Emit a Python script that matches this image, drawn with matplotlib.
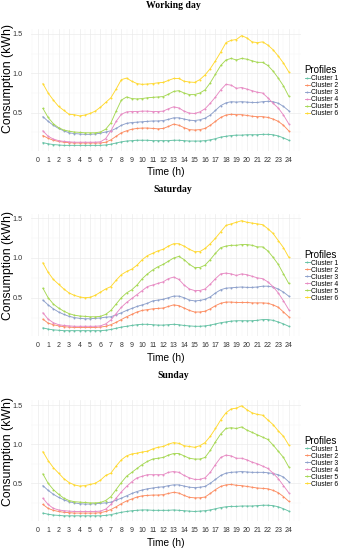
import numpy as np
import matplotlib
matplotlib.use("Agg")
import matplotlib.pyplot as plt
from matplotlib.ticker import MultipleLocator

# ---------------- data ----------------
hours = np.arange(0.5, 24.01, 0.5)          # half-hourly time stamps
clusters = ["Cluster 1", "Cluster 2", "Cluster 3", "Cluster 4", "Cluster 5", "Cluster 6"]
panel_titles = ["Working day", "Saturday", "Sunday"]
x_ticks = list(range(0, 25))
y_ticks = [0.5, 1.0, 1.5]

wd_c1 = [0.12, 0.105, 0.095, 0.09, 0.085, 0.085, 0.085, 0.085,
         0.085, 0.085, 0.085, 0.085, 0.09, 0.10, 0.115, 0.13,
         0.14, 0.145, 0.15, 0.15, 0.15, 0.145, 0.145, 0.145,
         0.145, 0.15, 0.15, 0.145, 0.14, 0.14, 0.14, 0.145,
         0.155, 0.17, 0.19, 0.20, 0.21, 0.215, 0.215, 0.22,
         0.22, 0.22, 0.225, 0.225, 0.22, 0.205, 0.18, 0.15]
wd_c2 = [0.21, 0.175, 0.15, 0.135, 0.125, 0.12, 0.115, 0.115,
         0.115, 0.115, 0.115, 0.115, 0.125, 0.155, 0.20, 0.245,
         0.27, 0.29, 0.30, 0.305, 0.305, 0.30, 0.295, 0.30,
         0.325, 0.355, 0.34, 0.31, 0.285, 0.28, 0.285, 0.30,
         0.34, 0.39, 0.44, 0.47, 0.48, 0.475, 0.475, 0.465,
         0.455, 0.45, 0.45, 0.44, 0.42, 0.39, 0.34, 0.27]
wd_c3 = [0.45, 0.39, 0.34, 0.30, 0.27, 0.245, 0.235, 0.23,
         0.225, 0.225, 0.23, 0.24, 0.255, 0.27, 0.30, 0.34,
         0.365, 0.375, 0.38, 0.385, 0.39, 0.395, 0.395, 0.40,
         0.415, 0.435, 0.435, 0.42, 0.405, 0.40, 0.41, 0.43,
         0.47, 0.53, 0.59, 0.625, 0.64, 0.635, 0.64, 0.635,
         0.63, 0.63, 0.64, 0.645, 0.64, 0.62, 0.58, 0.525]
wd_c4 = [0.27, 0.20, 0.165, 0.145, 0.135, 0.13, 0.125, 0.125,
         0.125, 0.125, 0.125, 0.13, 0.17, 0.27, 0.39, 0.48,
         0.51, 0.515, 0.515, 0.52, 0.52, 0.515, 0.515, 0.52,
         0.55, 0.575, 0.56, 0.52, 0.495, 0.49, 0.51, 0.55,
         0.62, 0.70, 0.79, 0.86, 0.85, 0.81, 0.82, 0.80,
         0.78, 0.76, 0.75, 0.69, 0.62, 0.56, 0.47, 0.36]
wd_c5 = [0.555, 0.44, 0.36, 0.31, 0.28, 0.265, 0.255, 0.25,
         0.245, 0.245, 0.245, 0.255, 0.29, 0.37, 0.52, 0.66,
         0.70, 0.68, 0.675, 0.68, 0.69, 0.695, 0.70, 0.705,
         0.735, 0.77, 0.78, 0.75, 0.73, 0.73, 0.75, 0.79,
         0.88, 0.99, 1.10, 1.17, 1.19, 1.17, 1.19, 1.18,
         1.16, 1.14, 1.14, 1.10, 1.03, 0.94, 0.84, 0.71]
wd_c6 = [0.87, 0.75, 0.66, 0.58, 0.53, 0.48, 0.475, 0.46,
         0.47, 0.49, 0.52, 0.57, 0.63, 0.69, 0.80, 0.92,
         0.94, 0.90, 0.87, 0.86, 0.865, 0.87, 0.88, 0.885,
         0.91, 0.935, 0.935, 0.90, 0.89, 0.885, 0.92, 0.98,
         1.06, 1.16, 1.27, 1.39, 1.42, 1.43, 1.48, 1.45,
         1.40, 1.39, 1.40, 1.36, 1.30, 1.22, 1.13, 1.02]

sat_c1 = [0.12, 0.105, 0.095, 0.09, 0.085, 0.085, 0.085, 0.085,
          0.085, 0.085, 0.085, 0.085, 0.09, 0.10, 0.115, 0.13,
          0.14, 0.15, 0.16, 0.165, 0.165, 0.16, 0.155, 0.155,
          0.16, 0.165, 0.16, 0.15, 0.145, 0.14, 0.14, 0.145,
          0.155, 0.17, 0.185, 0.195, 0.205, 0.21, 0.21, 0.21,
          0.21, 0.215, 0.225, 0.225, 0.215, 0.195, 0.17, 0.14]
sat_c2 = [0.23, 0.18, 0.16, 0.145, 0.135, 0.13, 0.125, 0.125,
          0.125, 0.125, 0.125, 0.13, 0.14, 0.16, 0.19, 0.225,
          0.26, 0.29, 0.32, 0.34, 0.35, 0.36, 0.365, 0.37,
          0.39, 0.41, 0.40, 0.37, 0.34, 0.32, 0.32, 0.33,
          0.36, 0.40, 0.43, 0.445, 0.445, 0.44, 0.44, 0.44,
          0.435, 0.435, 0.435, 0.43, 0.41, 0.38, 0.32, 0.26]
sat_c3 = [0.47, 0.41, 0.36, 0.32, 0.29, 0.265, 0.25, 0.24,
          0.235, 0.235, 0.24, 0.245, 0.255, 0.26, 0.285, 0.31,
          0.34, 0.365, 0.39, 0.41, 0.43, 0.46, 0.47, 0.48,
          0.50, 0.52, 0.52, 0.50, 0.47, 0.46, 0.465, 0.48,
          0.51, 0.56, 0.60, 0.62, 0.625, 0.63, 0.635, 0.63,
          0.63, 0.635, 0.645, 0.645, 0.635, 0.61, 0.57, 0.52]
sat_c4 = [0.31, 0.23, 0.185, 0.16, 0.15, 0.145, 0.14, 0.14,
          0.14, 0.14, 0.14, 0.145, 0.17, 0.22, 0.30, 0.38,
          0.44, 0.49, 0.54, 0.59, 0.64, 0.66, 0.68, 0.70,
          0.74, 0.76, 0.73, 0.66, 0.61, 0.59, 0.59, 0.61,
          0.67, 0.74, 0.80, 0.81, 0.80, 0.78, 0.80, 0.79,
          0.77, 0.75, 0.74, 0.70, 0.64, 0.56, 0.46, 0.35]
sat_c5 = [0.62, 0.50, 0.42, 0.37, 0.33, 0.30, 0.28, 0.27,
          0.265, 0.26, 0.26, 0.265, 0.29, 0.34, 0.42, 0.50,
          0.56, 0.60, 0.66, 0.74, 0.80, 0.85, 0.89, 0.92,
          0.96, 1.00, 1.02, 0.98, 0.92, 0.88, 0.88, 0.91,
          0.98, 1.06, 1.13, 1.15, 1.16, 1.16, 1.17, 1.17,
          1.16, 1.14, 1.14, 1.09, 1.01, 0.92, 0.80, 0.68]
sat_c6 = [0.94, 0.82, 0.73, 0.67, 0.61, 0.56, 0.53, 0.51,
          0.50, 0.505, 0.53, 0.57, 0.61, 0.64, 0.72, 0.79,
          0.83, 0.86, 0.91, 0.98, 1.03, 1.06, 1.09, 1.11,
          1.15, 1.18, 1.18, 1.15, 1.11, 1.08, 1.08, 1.12,
          1.18, 1.25, 1.33, 1.41, 1.43, 1.45, 1.47, 1.45,
          1.44, 1.43, 1.42, 1.37, 1.31, 1.22, 1.13, 1.01]

sun_c1 = [0.12, 0.105, 0.095, 0.09, 0.085, 0.085, 0.085, 0.085,
          0.085, 0.085, 0.085, 0.085, 0.09, 0.10, 0.115, 0.13,
          0.14, 0.15, 0.155, 0.16, 0.16, 0.155, 0.155, 0.155,
          0.155, 0.16, 0.155, 0.15, 0.145, 0.14, 0.145, 0.15,
          0.16, 0.175, 0.19, 0.20, 0.205, 0.205, 0.21, 0.21,
          0.21, 0.215, 0.22, 0.22, 0.215, 0.20, 0.175, 0.145]
sun_c2 = [0.23, 0.18, 0.155, 0.14, 0.13, 0.125, 0.12, 0.12,
          0.12, 0.12, 0.12, 0.125, 0.14, 0.165, 0.20, 0.24,
          0.275, 0.30, 0.325, 0.34, 0.345, 0.35, 0.35, 0.355,
          0.37, 0.385, 0.375, 0.345, 0.32, 0.315, 0.315, 0.325,
          0.37, 0.42, 0.46, 0.48, 0.485, 0.475, 0.47, 0.46,
          0.45, 0.44, 0.435, 0.43, 0.41, 0.38, 0.33, 0.27]
sun_c3 = [0.47, 0.41, 0.36, 0.32, 0.29, 0.265, 0.25, 0.24,
          0.235, 0.235, 0.24, 0.245, 0.25, 0.26, 0.285, 0.31,
          0.34, 0.37, 0.395, 0.415, 0.43, 0.44, 0.45, 0.455,
          0.47, 0.48, 0.48, 0.465, 0.45, 0.445, 0.45, 0.46,
          0.50, 0.55, 0.60, 0.63, 0.64, 0.645, 0.65, 0.645,
          0.64, 0.64, 0.64, 0.635, 0.625, 0.61, 0.58, 0.52]
sun_c4 = [0.31, 0.23, 0.18, 0.16, 0.15, 0.145, 0.14, 0.14,
          0.14, 0.14, 0.14, 0.145, 0.17, 0.23, 0.31, 0.39,
          0.46, 0.52, 0.57, 0.59, 0.61, 0.61, 0.61, 0.61,
          0.64, 0.65, 0.64, 0.60, 0.57, 0.55, 0.55, 0.57,
          0.64, 0.74, 0.83, 0.86, 0.85, 0.82, 0.82, 0.80,
          0.77, 0.75, 0.72, 0.69, 0.63, 0.56, 0.47, 0.38]
sun_c5 = [0.62, 0.50, 0.42, 0.36, 0.31, 0.28, 0.265, 0.26,
          0.255, 0.25, 0.25, 0.255, 0.28, 0.33, 0.42, 0.51,
          0.59, 0.64, 0.69, 0.74, 0.78, 0.81, 0.82, 0.83,
          0.86, 0.88, 0.88, 0.85, 0.82, 0.81, 0.81, 0.83,
          0.92, 1.03, 1.13, 1.20, 1.21, 1.20, 1.22, 1.18,
          1.15, 1.12, 1.09, 1.06, 0.99, 0.91, 0.83, 0.71]
sun_c6 = [0.905, 0.79, 0.70, 0.63, 0.56, 0.51, 0.48, 0.465,
          0.47, 0.485, 0.50, 0.54, 0.60, 0.63, 0.72, 0.80,
          0.85, 0.875, 0.885, 0.90, 0.91, 0.94, 0.96, 0.97,
          1.00, 1.02, 1.01, 0.98, 0.97, 0.96, 0.98, 1.02,
          1.10, 1.20, 1.31, 1.40, 1.45, 1.46, 1.49, 1.44,
          1.40, 1.38, 1.37, 1.31, 1.25, 1.17, 1.10, 0.99]

working_day = [wd_c1, wd_c2, wd_c3, wd_c4, wd_c5, wd_c6]
saturday = [sat_c1, sat_c2, sat_c3, sat_c4, sat_c5, sat_c6]
sunday = [sun_c1, sun_c2, sun_c3, sun_c4, sun_c5, sun_c6]
panels = [working_day, saturday, sunday]

# ---------------- style ----------------
colors = ["#66C2A5", "#FC8D62", "#8DA0CB", "#E78AC3", "#A6D854", "#FFD92F"]
W, H = 346, 550
fig = plt.figure(figsize=(W / 100, H / 100), dpi=100)
sans = ["Liberation Sans", "DejaVu Sans"]
serif = ["Liberation Serif", "DejaVu Serif"]

YMIN, YMAX = 0.015, 1.56
XMIN, XMAX = -0.675, 25.175
ax_left_px, ax_right_px = 30.6, 301.0

# pixel row of y=1.5 and pixels per unit for each panel
p15 = [34.0, 218.3, 405.0]
ppu = [78.7, 79.4, 78.3]
title_y = [6.0, 190.0, 375.7]
ylab_y = [78.7, 266.0, 451.0]

for i, data in enumerate(panels):
    top_px = p15[i] - (YMAX - 1.5) * ppu[i]
    bot_px = p15[i] + (1.5 - YMIN) * ppu[i]
    ax = fig.add_axes([ax_left_px / W, 1 - bot_px / H,
                       (ax_right_px - ax_left_px) / W, (bot_px - top_px) / H])
    for k, series in enumerate(data):
        ax.plot(hours, series, color=colors[k], lw=0.65, marker="o", ms=1.4,
                mew=0, label=clusters[k], solid_joinstyle="round")
    ax.set_xlim(XMIN, XMAX)
    ax.set_ylim(YMIN, YMAX)
    ax.set_xticks(x_ticks)
    ax.set_yticks(y_ticks)
    ax.set_yticklabels([f"{v:.1f}" for v in y_ticks])
    ax.xaxis.set_minor_locator(MultipleLocator(0.5))
    ax.yaxis.set_minor_locator(MultipleLocator(0.25))
    ax.grid(which="major", color="#EBEBEB", lw=0.5)
    ax.grid(which="minor", color="#F4F4F4", lw=0.3)
    ax.set_axisbelow(True)
    for s in ax.spines.values():
        s.set_visible(False)
    ax.tick_params(which="both", length=0)
    ax.tick_params(axis="x", pad=4.3, labelsize=5, labelcolor="#333333")
    ax.tick_params(axis="y", pad=5.6, labelsize=5.2, labelcolor="#333333")
    for lab in ax.get_xticklabels() + ax.get_yticklabels():
        lab.set_family(sans)
    ax.set_xlabel("Time (h)", fontsize=7.3, family=sans, labelpad=2.5)
    fig.text(8 / W, 1 - ylab_y[i] / H, "Consumption (kWh)", rotation=90,
             ha="center", va="center", fontsize=8.8, family=sans)
    fig.text(173 / W, 1 - title_y[i] / H, panel_titles[i], ha="center",
             va="center", fontsize=7, fontweight="bold", family=serif)
    leg_mid_px = (top_px + bot_px) / 2 + 1
    leg = ax.legend(loc="center left", bbox_to_anchor=(304.5 / W, 1 - leg_mid_px / H),
                    bbox_transform=fig.transFigure, frameon=False,
                    title="Profiles", title_fontsize=7,
                    labelspacing=0.0, handlelength=0.75, handletextpad=0.25,
                    borderpad=0, borderaxespad=0, alignment="left",
                    prop={"family": sans, "size": 4.9})
    leg.get_title().set_family(sans)

fig.savefig("out.png", dpi=100)
